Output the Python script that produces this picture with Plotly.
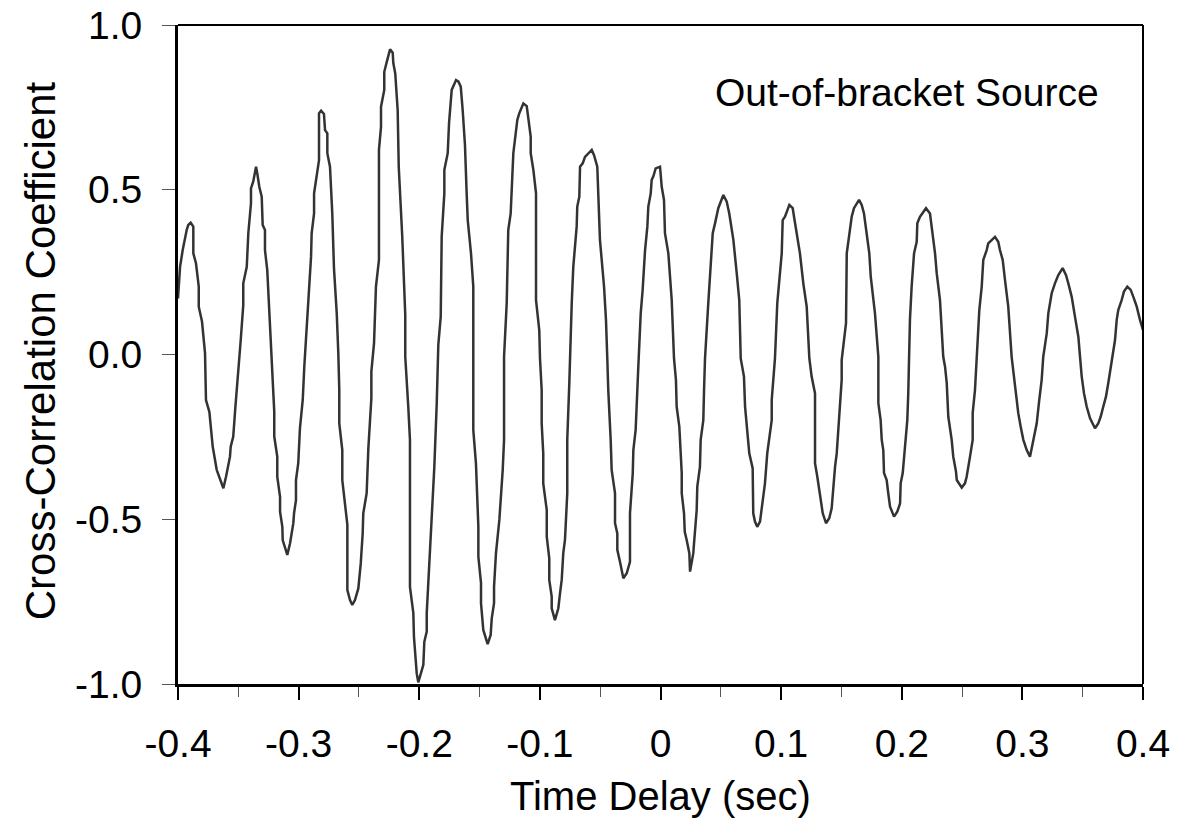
import plotly.graph_objects as go

# Time delay (sec) and cross-correlation coefficient
time_delay = [
    -0.4000, -0.3983, -0.3961, -0.3942, -0.3928, -0.3915, -0.3895, -0.3873, -0.3873, -0.3851,
    -0.3828, -0.3828, -0.3801, -0.3776, -0.3768, -0.3740, -0.3721, -0.3712, -0.3679, -0.3638,
    -0.3624, -0.3602, -0.3569, -0.3563, -0.3542, -0.3525, -0.3500, -0.3480, -0.3459, -0.3459,
    -0.3430, -0.3417, -0.3395, -0.3395, -0.3376, -0.3353, -0.3343, -0.3326, -0.3306, -0.3298,
    -0.3279, -0.3279, -0.3260, -0.3243, -0.3223, -0.3202, -0.3202, -0.3177, -0.3177, -0.3154,
    -0.3154, -0.3135, -0.3132, -0.3113, -0.3094, -0.3071, -0.3044, -0.3038, -0.3022, -0.3022,
    -0.3003, -0.2989, -0.2966, -0.2953, -0.2939, -0.2920, -0.2897, -0.2892, -0.2872, -0.2872,
    -0.2850, -0.2831, -0.2831, -0.2814, -0.2790, -0.2781, -0.2762, -0.2762, -0.2740, -0.2721,
    -0.2707, -0.2684, -0.2671, -0.2663, -0.2663, -0.2638, -0.2638, -0.2615, -0.2596, -0.2596,
    -0.2574, -0.2555, -0.2533, -0.2505, -0.2485, -0.2469, -0.2464, -0.2436, -0.2422, -0.2397,
    -0.2397, -0.2375, -0.2367, -0.2359, -0.2334, -0.2334, -0.2317, -0.2317, -0.2290, -0.2290,
    -0.2265, -0.2242, -0.2220, -0.2215, -0.2199, -0.2179, -0.2170, -0.2141, -0.2116, -0.2116,
    -0.2091, -0.2077, -0.2077, -0.2049, -0.2044, -0.2029, -0.2021, -0.2008, -0.1988, -0.1966,
    -0.1958, -0.1938, -0.1938, -0.1925, -0.1905, -0.1875, -0.1855, -0.1842, -0.1822, -0.1814,
    -0.1792, -0.1792, -0.1764, -0.1753, -0.1731, -0.1695, -0.1675, -0.1656, -0.1640, -0.1621,
    -0.1607, -0.1598, -0.1571, -0.1552, -0.1552, -0.1530, -0.1510, -0.1510, -0.1488, -0.1488,
    -0.1469, -0.1433, -0.1408, -0.1399, -0.1380, -0.1380, -0.1364, -0.1353, -0.1336, -0.1308,
    -0.1297, -0.1297, -0.1275, -0.1262, -0.1242, -0.1220, -0.1198, -0.1187, -0.1171, -0.1137,
    -0.1109, -0.1101, -0.1076, -0.1076, -0.1054, -0.1032, -0.1032, -0.1005, -0.0999, -0.0985,
    -0.0985, -0.0972, -0.0972, -0.0943, -0.0943, -0.0922, -0.0922, -0.0902, -0.0902, -0.0875,
    -0.0847, -0.0833, -0.0819, -0.0806, -0.0792, -0.0773, -0.0773, -0.0756, -0.0750, -0.0736,
    -0.0723, -0.0695, -0.0690, -0.0673, -0.0667, -0.0645, -0.0626, -0.0570, -0.0551, -0.0524,
    -0.0516, -0.0502, -0.0468, -0.0452, -0.0441, -0.0433, -0.0413, -0.0405, -0.0377, -0.0377,
    -0.0358, -0.0358, -0.0336, -0.0308, -0.0280, -0.0253, -0.0253, -0.0230, -0.0225, -0.0206,
    -0.0184, -0.0164, -0.0148, -0.0128, -0.0109, -0.0101, -0.0081, -0.0073, -0.0060, -0.0040,
    -0.0004, 0.0010, 0.0029, 0.0037, 0.0065, 0.0079, 0.0093, 0.0112, 0.0128, 0.0134,
    0.0156, 0.0176, 0.0176, 0.0195, 0.0201, 0.0217, 0.0239, 0.0245, 0.0272, 0.0278,
    0.0300, 0.0305, 0.0327, 0.0333, 0.0355, 0.0361, 0.0369, 0.0396, 0.0416, 0.0433,
    0.0452, 0.0466, 0.0479, 0.0521, 0.0549, 0.0570, 0.0604, 0.0632, 0.0653, 0.0665,
    0.0692, 0.0701, 0.0715, 0.0736, 0.0764, 0.0769, 0.0783, 0.0802, 0.0825, 0.0839,
    0.0866, 0.0885, 0.0922, 0.0922, 0.0935, 0.0949, 0.0968, 0.0991, 0.1005, 0.1013,
    0.1032, 0.1068, 0.1096, 0.1107, 0.1156, 0.1184, 0.1212, 0.1234, 0.1253, 0.1281,
    0.1281, 0.1300, 0.1322, 0.1345, 0.1372, 0.1399, 0.1419, 0.1433, 0.1447, 0.1461,
    0.1482, 0.1502, 0.1502, 0.1521, 0.1538, 0.1544, 0.1565, 0.1577, 0.1585, 0.1604,
    0.1646, 0.1668, 0.1687, 0.1731, 0.1743, 0.1778, 0.1806, 0.1806, 0.1825, 0.1834,
    0.1847, 0.1853, 0.1875, 0.1888, 0.1903, 0.1936, 0.1963, 0.1986, 0.1991, 0.2008,
    0.2019, 0.2035, 0.2046, 0.2054, 0.2063, 0.2068, 0.2082, 0.2102, 0.2124, 0.2129,
    0.2151, 0.2201, 0.2234, 0.2276, 0.2290, 0.2317, 0.2344, 0.2359, 0.2373, 0.2386,
    0.2414, 0.2427, 0.2450, 0.2456, 0.2497, 0.2524, 0.2538, 0.2552, 0.2566, 0.2588,
    0.2588, 0.2607, 0.2621, 0.2643, 0.2663, 0.2676, 0.2704, 0.2717, 0.2773, 0.2800,
    0.2814, 0.2837, 0.2856, 0.2883, 0.2911, 0.2930, 0.2953, 0.2966, 0.2986, 0.3008,
    0.3036, 0.3063, 0.3077, 0.3119, 0.3140, 0.3160, 0.3173, 0.3202, 0.3215, 0.3229,
    0.3243, 0.3270, 0.3298, 0.3334, 0.3362, 0.3381, 0.3409, 0.3436, 0.3464, 0.3478,
    0.3492, 0.3511, 0.3533, 0.3561, 0.3602, 0.3629, 0.3649, 0.3671, 0.3693, 0.3712,
    0.3726, 0.3754, 0.3768, 0.3782, 0.3795, 0.3823, 0.3842, 0.3870, 0.3898, 0.3920,
    0.3948, 0.3975, 0.4000,
]

coefficient = [
    0.170, 0.266, 0.317, 0.357, 0.378, 0.393, 0.400, 0.388, 0.307, 0.277,
    0.206, 0.145, 0.100, 0.004, -0.138, -0.174, -0.249, -0.280, -0.350, -0.396,
    -0.406, -0.371, -0.310, -0.280, -0.249, -0.163, -0.062, 0.044, 0.150, 0.216,
    0.266, 0.368, 0.459, 0.504, 0.525, 0.570, 0.550, 0.509, 0.479, 0.393,
    0.378, 0.317, 0.256, 0.120, 0.004, -0.174, -0.249, -0.310, -0.371, -0.432,
    -0.477, -0.523, -0.563, -0.588, -0.608, -0.573, -0.512, -0.482, -0.442, -0.381,
    -0.330, -0.224, -0.138, -0.037, 0.044, 0.165, 0.297, 0.368, 0.428, 0.489,
    0.540, 0.590, 0.732, 0.740, 0.730, 0.681, 0.671, 0.611, 0.570, 0.428,
    0.262, 0.125, 0.004, -0.108, -0.209, -0.290, -0.381, -0.452, -0.517, -0.715,
    -0.745, -0.760, -0.745, -0.710, -0.634, -0.543, -0.482, -0.421, -0.285, -0.133,
    -0.052, 0.034, 0.115, 0.206, 0.287, 0.621, 0.691, 0.752, 0.803, 0.858,
    0.894, 0.926, 0.916, 0.884, 0.853, 0.742, 0.570, 0.358, 0.120, -0.007,
    -0.158, -0.259, -0.705, -0.785, -0.856, -0.922, -0.968, -0.995, -0.973, -0.942,
    -0.872, -0.841, -0.785, -0.694, -0.533, -0.341, -0.148, 0.029, 0.115, 0.358,
    0.489, 0.560, 0.611, 0.702, 0.803, 0.833, 0.828, 0.813, 0.742, 0.636,
    0.489, 0.408, 0.307, 0.206, -0.229, -0.330, -0.523, -0.614, -0.694, -0.755,
    -0.836, -0.879, -0.851, -0.801, -0.755, -0.705, -0.603, -0.563, -0.502, -0.350,
    -0.259, -0.007, 0.155, 0.378, 0.428, 0.611, 0.691, 0.712, 0.732, 0.762,
    0.754, 0.732, 0.661, 0.611, 0.560, 0.489, 0.165, 0.074, -0.012, -0.108,
    -0.209, -0.300, -0.391, -0.472, -0.553, -0.619, -0.684, -0.735, -0.770, -0.806,
    -0.770, -0.725, -0.684, -0.603, -0.563, -0.421, -0.259, -0.087, -0.007, 0.155,
    0.266, 0.388, 0.449, 0.479, 0.570, 0.580, 0.600, 0.621, 0.605, 0.570,
    0.489, 0.348, 0.206, 0.105, -0.012, -0.108, -0.259, -0.350, -0.421, -0.512,
    -0.543, -0.593, -0.629, -0.679, -0.664, -0.629, -0.482, -0.360, -0.290, -0.229,
    -0.037, 0.125, 0.196, 0.317, 0.388, 0.449, 0.489, 0.530, 0.540, 0.565,
    0.570, 0.509, 0.469, 0.368, 0.307, 0.226, 0.165, -0.012, -0.077, -0.158,
    -0.219, -0.360, -0.421, -0.482, -0.538, -0.563, -0.603, -0.659, -0.603, -0.573,
    -0.472, -0.401, -0.341, -0.259, -0.199, -0.108, -0.012, 0.155, 0.262, 0.368,
    0.398, 0.428, 0.444, 0.484, 0.464, 0.428, 0.348, 0.246, 0.165, -0.012,
    -0.067, -0.158, -0.209, -0.300, -0.345, -0.482, -0.507, -0.523, -0.507, -0.462,
    -0.391, -0.300, -0.199, -0.138, -0.067, -0.012, 0.155, 0.256, 0.307, 0.408,
    0.418, 0.454, 0.444, 0.418, 0.307, 0.216, 0.145, -0.012, -0.067, -0.118,
    -0.330, -0.371, -0.432, -0.482, -0.512, -0.497, -0.467, -0.401, -0.341, -0.300,
    -0.199, -0.077, -0.017, 0.044, 0.095, 0.307, 0.358, 0.388, 0.418, 0.444,
    0.469, 0.454, 0.428, 0.307, 0.236, 0.125, -0.007, -0.148, -0.199, -0.259,
    -0.290, -0.360, -0.381, -0.421, -0.462, -0.492, -0.477, -0.452, -0.391, -0.360,
    -0.310, -0.239, -0.199, -0.118, 0.044, 0.105, 0.206, 0.307, 0.342, 0.398,
    0.418, 0.444, 0.428, 0.307, 0.246, 0.165, -0.007, -0.037, -0.087, -0.189,
    -0.259, -0.310, -0.356, -0.381, -0.404, -0.391, -0.371, -0.345, -0.310, -0.259,
    -0.178, -0.108, -0.017, 0.135, 0.206, 0.287, 0.317, 0.337, 0.357, 0.342,
    0.317, 0.287, 0.226, 0.145, -0.007, -0.067, -0.128, -0.178, -0.219, -0.259,
    -0.290, -0.310, -0.285, -0.209, -0.138, -0.077, -0.007, 0.064, 0.125, 0.155,
    0.186, 0.216, 0.241, 0.262, 0.241, 0.216, 0.175, 0.115, 0.054, -0.007,
    -0.067, -0.118, -0.158, -0.194, -0.224, -0.209, -0.189, -0.158, -0.128, -0.087,
    -0.057, 0.004, 0.044, 0.105, 0.135, 0.165, 0.191, 0.206, 0.196, 0.175,
    0.145, 0.105, 0.074,
]

x_tick_vals = [-0.4, -0.3, -0.2, -0.1, 0.0, 0.1, 0.2, 0.3, 0.4]
x_tick_text = ["-0.4", "-0.3", "-0.2", "-0.1", "0", "0.1", "0.2", "0.3", "0.4"]
y_tick_vals = [-1.0, -0.5, 0.0, 0.5, 1.0]
y_tick_text = ["-1.0", "-0.5", "0.0", "0.5", "1.0"]

x_title = "Time Delay (sec)"
y_title = "Cross-Correlation Coefficient"
label_text = "Out-of-bracket Source"

FONT = "Liberation Sans, Arial, Helvetica, sans-serif"

fig = go.Figure()
fig.add_trace(go.Scatter(
    x=time_delay, y=coefficient, mode="lines",
    line=dict(color="#333333", width=2.5),
    showlegend=False, hoverinfo="x+y",
))

fig.update_layout(
    width=1188, height=840,
    margin=dict(l=178, r=45, t=25, b=156, autoexpand=False),
    paper_bgcolor="white", plot_bgcolor="white",
    font=dict(family=FONT, color="black", size=39),
    showlegend=False,
)

fig.update_xaxes(
    range=[-0.4, 0.4], tickmode="array", tickvals=x_tick_vals, ticktext=x_tick_text,
    ticks="outside", ticklen=13, tickwidth=1.5, tickcolor="black",
    minor=dict(tick0=-0.4, dtick=0.05, ticks="outside", ticklen=10, tickwidth=1.2,
               tickcolor="#555555", showgrid=False),
    showline=True, linecolor="black", linewidth=3,
    showgrid=False, zeroline=False,
    tickfont=dict(size=39), ticklabelstandoff=10,
    automargin=False,
)
fig.update_yaxes(
    range=[-1.0, 1.0], tickmode="array", tickvals=y_tick_vals, ticktext=y_tick_text,
    ticks="outside", ticklen=13, tickwidth=1.2, tickcolor="#555555",
    showline=True, linecolor="black", linewidth=3,
    showgrid=False, zeroline=False,
    tickfont=dict(size=39), ticklabelstandoff=12,
    automargin=False,
)

# axis titles placed as paper annotations for precise positioning
fig.add_annotation(
    text=x_title, xref="paper", yref="paper", x=0.5, y=-0.170,
    xanchor="center", yanchor="middle", showarrow=False,
    font=dict(size=40, family=FONT, color="black"),
)
fig.add_annotation(
    text=y_title, xref="paper", yref="paper", x=-0.143, y=0.505,
    xanchor="center", yanchor="middle", showarrow=False, textangle=-90,
    font=dict(size=42, family=FONT, color="black"),
)

# top and right frame borders
fig.add_shape(type="line", xref="paper", yref="paper", x0=0, x1=1, y0=1, y1=1,
              line=dict(color="black", width=2))
fig.add_shape(type="line", xref="paper", yref="paper", x0=1, x1=1, y0=0, y1=1,
              line=dict(color="black", width=2))

fig.add_annotation(
    text=label_text, xref="paper", yref="paper", x=0.755, y=0.897,
    xanchor="center", yanchor="middle", showarrow=False,
    font=dict(size=39, family=FONT, color="black"),
)

fig.write_html("out.html")
